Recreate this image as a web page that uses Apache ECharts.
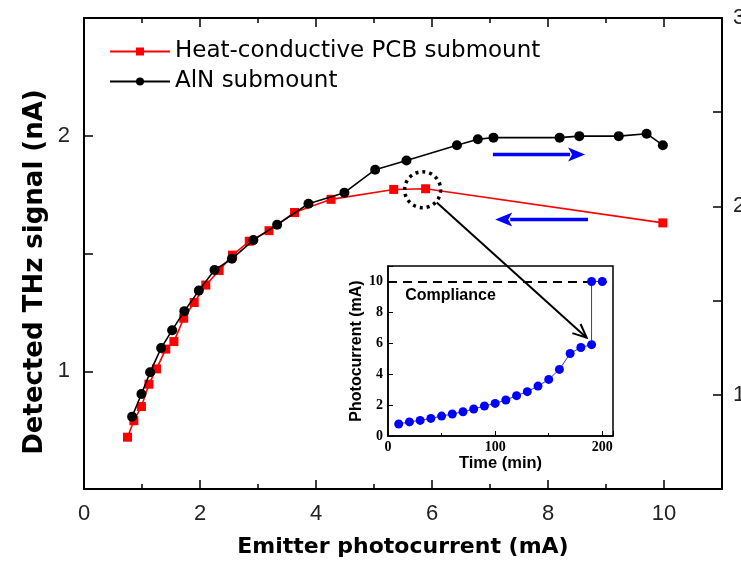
<!DOCTYPE html>
<html><head><meta charset="utf-8">
<script src="https://cdn.jsdelivr.net/npm/echarts@6/dist/echarts.min.js"></script>
<style>html,body{margin:0;padding:0;background:#fff}#c{width:741px;height:563px}</style>
</head><body><div id="c"></div>
<script>
// Main panel data
const pcbName = 'Heat-conductive PCB submount';
const alnName = 'AlN submount';
const pcbCurrent = [0.75,0.86,0.99,1.12,1.25,1.41,1.55,1.72,1.90,2.10,2.33,2.56,2.85,3.19,3.63,4.26,5.34,5.89,9.98];
const pcbSignal  = [0.72,0.79,0.85,0.945,1.01,1.094,1.126,1.225,1.292,1.366,1.428,1.493,1.552,1.597,1.674,1.730,1.772,1.775,1.630];
const alnCurrent = [0.83,0.99,1.14,1.33,1.52,1.73,1.98,2.25,2.55,2.92,3.33,3.87,4.49,5.02,5.56,6.43,6.79,7.06,8.20,8.54,9.22,9.70,9.98];
const alnSignal  = [0.884,1.004,1.120,1.248,1.343,1.444,1.553,1.662,1.722,1.821,1.903,2.014,2.073,2.195,2.244,2.325,2.356,2.365,2.365,2.373,2.373,2.386,2.325];
// Inset data
const insetTime    = [10,20,30,40,50,60,70,80,90,100,110,120,130,140,150,160,170,180,190,190,200];
const insetCurrent = [0.78,0.91,1.01,1.14,1.29,1.42,1.57,1.75,1.94,2.11,2.33,2.61,2.87,3.23,3.66,4.31,5.34,5.73,5.91,10.0,10.0];
const complianceLevel = 10;
// Tick labels
const xTickLabels = [0,2,4,6,8,10];
const leftTickLabels = [1,2];
const rightTickLabels = [1,2,3];
const insetXTicks = [0,100,200];
const insetYTicks = [0,2,4,6,8,10];

const zip = (a,b) => a.map((v,i)=>[v,b[i]]);
const SANS = 'DejaVu Sans';
const chart = echarts.init(document.getElementById('c'), null, {renderer:'canvas'});
const axLine = {show:true, onZero:false, lineStyle:{color:'#000', width:2}};
const mainLabel = {fontFamily:'Liberation Sans', fontSize:22, color:'#222'};
const insetLabel = {fontFamily:'Liberation Serif', fontWeight:'bold', fontSize:14, color:'#000'};

const option = {
  animation:false,
  backgroundColor:'#fff',
  grid:[
    {left:84, right:19, top:18, bottom:74, containLabel:false, outerBoundsMode:'none'},
    {left:388, top:266, width:225, height:170, show:true, backgroundColor:'#fff', borderColor:'#000', borderWidth:1.5, containLabel:false, outerBoundsMode:'none'}
  ],
  legend:{
    orient:'vertical', left:104, top:35, itemWidth:60, itemHeight:10, itemGap:7,
    data:[pcbName, alnName],
    textStyle:{fontFamily:SANS, fontSize:23, color:'#000', lineHeight:23}
  },
  xAxis:[
    {type:'value', gridIndex:0, min:0, max:11, interval:2, position:'bottom',
     axisLine:axLine, splitLine:{show:false},
     axisTick:{inside:true, length:9, lineStyle:{width:1.5,color:'#000'}},
     minorTick:{show:true, splitNumber:2, length:5, lineStyle:{width:1.5,color:'#000'}},
     axisLabel:Object.assign({margin:14, formatter:v=>xTickLabels.includes(v)?String(v):''}, mainLabel),
     name:'Emitter photocurrent (mA)', nameLocation:'middle', nameGap:47,
     nameTextStyle:{fontFamily:SANS, fontWeight:'bold', fontSize:22, color:'#000'}},
    {type:'value', gridIndex:0, min:0, max:11, interval:2, position:'top',
     axisLine:axLine, splitLine:{show:false},
     axisTick:{inside:true, length:9, lineStyle:{width:1.5,color:'#000'}},
     minorTick:{show:true, splitNumber:2, length:5, lineStyle:{width:1.5,color:'#000'}},
     axisLabel:{show:false}},
    {type:'value', gridIndex:1, min:0, max:210, interval:100,
     axisLine:{show:true, onZero:false, lineStyle:{color:'#000', width:1.5}}, splitLine:{show:false},
     axisTick:{inside:true, length:5, lineStyle:{color:'#000'}},
     minorTick:{show:true, splitNumber:2, length:3, lineStyle:{color:'#000'}},
     axisLabel:Object.assign({margin:4, formatter:v=>insetXTicks.includes(v)?String(v):''}, insetLabel),
     name:'Time (min)', nameLocation:'middle', nameGap:19,
     nameTextStyle:{fontFamily:'Liberation Sans', fontWeight:'bold', fontSize:16.5, color:'#000'}}
  ],
  yAxis:[
    {type:'value', gridIndex:0, min:0.5, max:2.5, interval:0.5, position:'left',
     axisLine:axLine, splitLine:{show:false},
     axisTick:{inside:true, length:9, lineStyle:{width:1.5,color:'#000'}},
     axisLabel:Object.assign({margin:14, formatter:v=>leftTickLabels.includes(v)?String(v):''}, mainLabel)},
    {type:'value', gridIndex:0, min:0.5, max:3, interval:0.5, position:'right',
     axisLine:axLine, splitLine:{show:false},
     axisTick:{inside:true, length:9, lineStyle:{width:1.5,color:'#000'}},
     axisLabel:Object.assign({margin:11, formatter:v=>rightTickLabels.includes(v)?String(v):''}, mainLabel)},
    {type:'value', gridIndex:1, min:0, max:11, interval:2,
     axisLine:{show:true, onZero:false, lineStyle:{color:'#000', width:1.5}}, splitLine:{show:false},
     axisTick:{inside:true, length:5, lineStyle:{color:'#000'}},
     axisLabel:Object.assign({margin:5, formatter:v=>insetYTicks.includes(v)?String(v):''}, insetLabel),
     name:'Photocurrent (mA)', nameLocation:'middle', nameGap:23,
     nameTextStyle:{fontFamily:'Liberation Sans', fontWeight:'bold', fontSize:16, color:'#000'}}
  ],
  series:[
    {name:pcbName, type:'line', xAxisIndex:0, yAxisIndex:0, data:zip(pcbCurrent,pcbSignal),
     symbol:'rect', symbolSize:9, itemStyle:{color:'#ff0000'}, lineStyle:{color:'#ff0000', width:1.6}, z:3},
    {name:alnName, type:'line', xAxisIndex:0, yAxisIndex:1, data:zip(alnCurrent,alnSignal),
     symbol:'circle', symbolSize:10, itemStyle:{color:'#000'}, lineStyle:{color:'#000', width:1.6}, z:4},
    {name:'inset', type:'line', xAxisIndex:2, yAxisIndex:2, data:zip(insetTime,insetCurrent),
     symbol:'circle', symbolSize:9, itemStyle:{color:'#0000ff'}, lineStyle:{color:'#3333cc', width:1},
     markLine:{silent:true, symbol:'none', label:{show:false},
       lineStyle:{color:'#000', type:[9,6], width:2},
       data:[{yAxis:complianceLevel}]}, z:5}
  ]
};
chart.setOption(option);

// annotations positioned from data coordinates
const toMain0 = xy => chart.convertToPixel({xAxisIndex:0, yAxisIndex:0}, xy);
const toMain1 = xy => chart.convertToPixel({xAxisIndex:0, yAxisIndex:1}, xy);
const toInset = xy => chart.convertToPixel({xAxisIndex:2, yAxisIndex:2}, xy);
const c = toMain0([pcbCurrent[17], pcbSignal[17]]);
const cx = c[0]-3, cy = c[1]+1, r = 18;
const tip = toInset([185.4, 6.36]);
let dx = tip[0]-cx, dy = tip[1]-cy; const L = Math.hypot(dx,dy); dx/=L; dy/=L;
const start = [cx+dx*(r+1), cy+dy*(r+1)];
const hl = 15, ang = 0.42;
const rot = (vx,vy,a)=>[vx*Math.cos(a)-vy*Math.sin(a), vx*Math.sin(a)+vy*Math.cos(a)];
const h1 = rot(-dx,-dy,ang), h2 = rot(-dx,-dy,-ang);
function blueArrow(p0, p1){
  const ux = Math.sign(p1[0]-p0[0]);
  const headL = 17, headW = 7;
  const base = p1[0]-ux*headL;
  return [
    {type:'line', shape:{x1:p0[0], y1:p0[1], x2:base+ux*2, y2:p1[1]}, style:{stroke:'#0000ff', lineWidth:3.5}, z:20},
    {type:'polygon', shape:{points:[[p1[0],p1[1]],[base,p1[1]-headW],[base+ux*4,p1[1]],[base,p1[1]+headW]]}, style:{fill:'#0000ff'}, z:20}
  ];
}
const rA = blueArrow(toMain1([7.05,2.276]), toMain1([8.64,2.276]));
const lA = blueArrow(toMain0([8.69,1.644]), toMain0([7.09,1.644]));
const comp = toInset([16, 9.1]);
const ttl = [35, 272];
chart.setOption({graphic:[
  {type:'circle', shape:{cx:cx, cy:cy, r:r}, style:{fill:'none', stroke:'#000', lineWidth:3.5, lineDash:[3,4]}, z:20},
  {type:'line', shape:{x1:start[0], y1:start[1], x2:tip[0], y2:tip[1]}, style:{stroke:'#000', lineWidth:2}, z:20},
  {type:'polyline', shape:{points:[[tip[0]+h1[0]*hl, tip[1]+h1[1]*hl],[tip[0],tip[1]],[tip[0]+h2[0]*hl, tip[1]+h2[1]*hl]]}, style:{stroke:'#000', lineWidth:2, fill:null}, z:20},
  ...rA, ...lA,
  {type:'text', x:comp[0], y:comp[1], style:{text:'Compliance', fontFamily:'Liberation Sans', fontWeight:'bold', fontSize:16, fill:'#000', verticalAlign:'middle', align:'left'}, z:20},
  {type:'text', x:ttl[0], y:ttl[1], rotation:Math.PI/2, style:{text:'Detected THz signal (nA)', fontFamily:SANS, fontWeight:'bold', fontSize:26, fill:'#000', align:'center', verticalAlign:'middle'}, z:20}
]});
</script>
</body></html>
